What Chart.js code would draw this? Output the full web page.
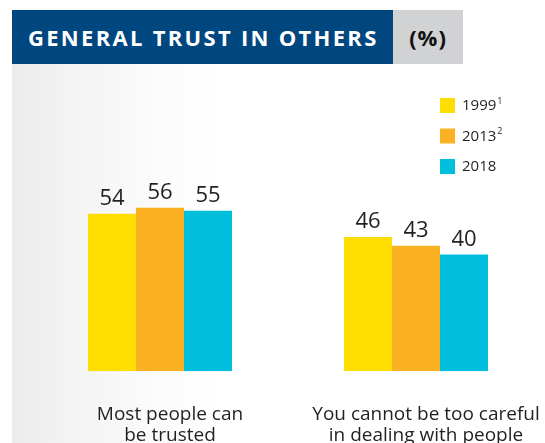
<!DOCTYPE html>
<html>
<head>
<meta charset="utf-8">
<script src="https://cdn.jsdelivr.net/npm/chart.js@4.4.1/dist/chart.umd.min.js"></script>
<style>
  html, body { margin: 0; padding: 0; background: #fff; overflow: hidden; }
  #wrap { position: relative; width: 545px; height: 446px; }
  #panel { position: absolute; left: 12px; top: 64px; right: 0; bottom: 0;
    background: linear-gradient(to right, #ececec 0px, #f3f3f3 60px, #fbfbfb 140px, #ffffff 210px); }
  #titleBlue { position: absolute; left: 12px; top: 10px; width: 381px; height: 54px; background: #00467f;
    color: #fff; font: 700 22px "Open Sans", sans-serif; line-height: 54px; padding-left: 16px; box-sizing: border-box; letter-spacing: 2.3px; white-space: nowrap; }
  #titleGray { position: absolute; left: 393px; top: 10px; width: 70px; height: 54px; background: #d1d2d4;
    color: #111; font: 700 22px "Open Sans", sans-serif; line-height: 54px; text-align: center; letter-spacing: 1px; }
  #chartBox { position: absolute; left: 0; top: 0; width: 545px; height: 446px; }
</style>
</head>
<body>
<div id="wrap">
  <div id="panel"></div>
  <div id="titleBlue">GENERAL TRUST IN OTHERS</div>
  <div id="titleGray">(%)</div>
  <div id="chartBox"><canvas id="cv" width="545" height="446"></canvas></div>
</div>
<script>
const categories = [["Most people can", "be trusted"], ["You cannot be too careful", "in dealing with people"]];
const seriesNames = ["1999", "2013", "2018"];
const seriesNotes = ["1", "2", ""];
const values1999 = [54, 46];
const values2013 = [56, 43];
const values2018 = [55, 40];
const seriesColors = ["#fedd00", "#fbb121", "#00bfdd"];

const FONT = "'Open Sans', sans-serif";

const valueLabels = {
  id: "valueLabels",
  afterDatasetsDraw(chart) {
    const ctx = chart.ctx;
    ctx.save();
    ctx.fillStyle = "#231f20";
    ctx.font = "400 22px " + FONT;
    ctx.textAlign = "center";
    ctx.textBaseline = "alphabetic";
    chart.data.datasets.forEach((ds, i) => {
      chart.getDatasetMeta(i).data.forEach((el, j) => {
        ctx.fillText(String(ds.data[j]), el.x, el.y - 9);
      });
    });
    ctx.restore();
  }
};

const sideLegend = {
  id: "sideLegend",
  afterDraw(chart) {
    const ctx = chart.ctx;
    ctx.save();
    chart.data.datasets.forEach((ds, i) => {
      const y = 98 + i * 30.5;
      ctx.fillStyle = ds.backgroundColor;
      ctx.fillRect(440, y, 15, 15);
      ctx.fillStyle = "#231f20";
      ctx.font = "400 15px " + FONT;
      ctx.textAlign = "left";
      ctx.textBaseline = "middle";
      ctx.fillText(ds.label, 462, y + 8);
      const w = ctx.measureText(ds.label).width;
      if (seriesNotes[i]) {
        ctx.font = "400 9px " + FONT;
        ctx.fillText(seriesNotes[i], 462 + w + 1, y + 3);
      }
    });
    ctx.restore();
  }
};

new Chart(document.getElementById("cv"), {
  type: "bar",
  data: {
    labels: categories,
    datasets: [
      { label: seriesNames[0], data: values1999, backgroundColor: seriesColors[0] },
      { label: seriesNames[1], data: values2013, backgroundColor: seriesColors[1] },
      { label: seriesNames[2], data: values2018, backgroundColor: seriesColors[2] }
    ]
  },
  options: {
    responsive: false,
    maintainAspectRatio: false,
    animation: false,
    devicePixelRatio: 1,
    layout: { padding: { left: 32, right: 1, top: 79.5, bottom: 0 } },
    datasets: { bar: { barPercentage: 1, categoryPercentage: 0.5625, borderWidth: 0 } },
    plugins: { legend: { display: false }, tooltip: { enabled: false }, title: { display: false } },
    scales: {
      y: { display: false, min: 0, max: 100 },
      x: {
        grid: { display: false, drawTicks: true, tickLength: 33 },
        border: { display: false },
        ticks: { color: "#231f20", font: { family: FONT, size: 19, weight: 400, lineHeight: 1.1 }, padding: 0, labelOffset: 10, maxRotation: 0, autoSkip: false }
      }
    }
  },
  plugins: [valueLabels, sideLegend]
});
</script>
</body>
</html>
